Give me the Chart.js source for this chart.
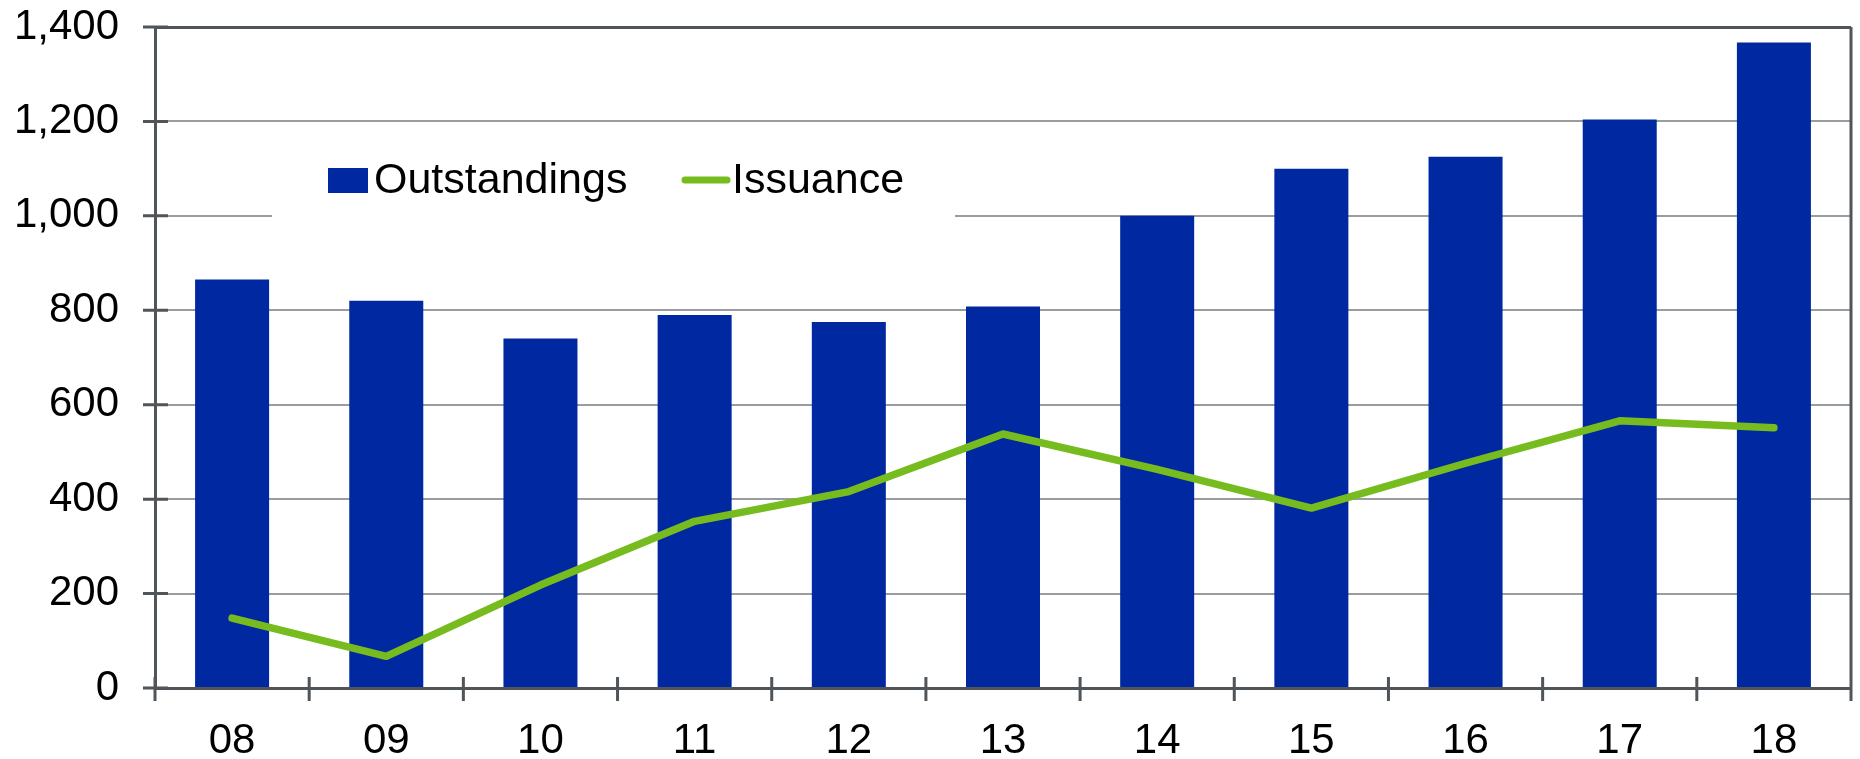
<!DOCTYPE html>
<html>
<head>
<meta charset="utf-8">
<script src="https://cdn.jsdelivr.net/npm/chart.js@4/dist/chart.umd.min.js"></script>
<style>
	body { margin: 0; background: #fff; }
	canvas { display: block; }
</style>
</head>
<body>
<canvas id="chart" width="1860" height="759"></canvas>
<script>
'use strict';

// data
const years = ['08', '09', '10', '11', '12', '13', '14', '15', '16', '17', '18'];
const outstandings = [865, 820, 740, 790, 775, 808, 1000, 1100, 1125, 1204, 1367];
const issuance = [148, 67, 218, 353, 416, 538, 463, 381, 476, 566, 551];

const blue = '#0028a0';
const green = '#77bc1f';
const dark = '#50555a';
const font = "'Liberation Sans', Arial, sans-serif";

// ticks crossing the axes + right border
const frameTicks = {
	id: 'frameTicks',
	afterDatasetsDraw(chart) {
		const {ctx, chartArea: a, scales: {x, y}} = chart;
		ctx.save();
		ctx.strokeStyle = dark;
		ctx.lineWidth = 3;
		ctx.beginPath();
		ctx.moveTo(a.right, a.top);
		ctx.lineTo(a.right, a.bottom + 13);
		y.ticks.forEach(t => {
			const py = y.getPixelForValue(t.value);
			ctx.moveTo(a.left - 12, py);
			ctx.lineTo(a.left + 13, py);
		});
		for (let i = 0; i <= years.length; i++) {
			const px = x.getPixelForValue(i - 0.5);
			ctx.moveTo(px, a.bottom - 11);
			ctx.lineTo(px, a.bottom + 13);
		}
		ctx.stroke();
		ctx.restore();
	}
};

// legend sitting inside the plot, on a white box
const innerLegend = {
	id: 'innerLegend',
	beforeDatasetsDraw(chart) {
		const {ctx, chartArea: a} = chart;
		const ds = chart.data.datasets;
		const x0 = a.left + 117;
		const yc = 180;
		ctx.save();
		ctx.fillStyle = '#fff';
		ctx.fillRect(x0, yc - 55, 683, 102);

		ctx.font = '43px ' + font;
		ctx.textBaseline = 'middle';

		ctx.fillStyle = ds[0].backgroundColor;
		ctx.fillRect(x0 + 56, yc - 12, 40, 25);
		ctx.fillStyle = '#000';
		ctx.fillText(ds[0].label, x0 + 102, yc + 1);

		ctx.strokeStyle = ds[1].borderColor;
		ctx.lineWidth = 7;
		ctx.lineCap = 'round';
		ctx.beginPath();
		ctx.moveTo(x0 + 413, yc);
		ctx.lineTo(x0 + 455, yc);
		ctx.stroke();
		ctx.fillText(ds[1].label, x0 + 460, yc + 1);
		ctx.restore();
	}
};

const ctx = document.querySelector('#chart').getContext('2d');

new Chart(ctx, {
	data: {
		labels: years,
		datasets: [
			{
				type: 'bar',
				label: 'Outstandings',
				data: outstandings,
				backgroundColor: blue,
				borderWidth: 0,
				barPercentage: 0.48,
				categoryPercentage: 1,
				order: 1
			},
			{
				type: 'line',
				label: 'Issuance',
				data: issuance,
				borderColor: green,
				backgroundColor: green,
				borderWidth: 7.5,
				borderCapStyle: 'round',
				borderJoinStyle: 'round',
				pointRadius: 0,
				tension: 0,
				order: 0
			}
		]
	},
	options: {
		responsive: false,
		animation: false,
		layout: {
			autoPadding: false,
			padding: {top: 27, right: 9, left: 0, bottom: 0}
		},
		plugins: {
			legend: {display: false},
			tooltip: {enabled: false}
		},
		scales: {
			x: {
				grid: {display: false, drawTicks: false},
				border: {color: dark, width: 3},
				ticks: {
					color: '#000',
					padding: 28,
					font: {family: font, size: 42}
				},
				afterFit: s => { s.height = 71; s.paddingLeft = 0; s.paddingRight = 0; }
			},
			y: {
				min: 0,
				max: 1400,
				grid: {
					drawTicks: false,
					lineWidth: c => c.index === 7 ? 3 : 2,
					color: c => c.index === 7 ? dark : '#9a9da0'
				},
				border: {color: dark, width: 3},
				ticks: {
					stepSize: 200,
					color: '#000',
					padding: 36,
					font: {family: font, size: 42},
					callback: v => v.toLocaleString('en-US')
				},
				afterFit: s => { s.width = 155; s.paddingTop = 0; s.paddingBottom = 0; }
			}
		}
	},
	plugins: [frameTicks, innerLegend]
});
</script>
</body>
</html>
